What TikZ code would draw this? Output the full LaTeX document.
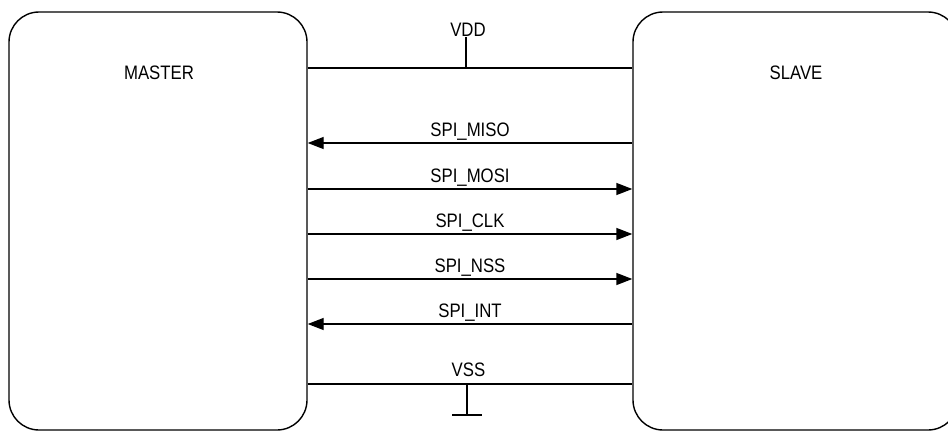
\documentclass[tikz,border=0pt]{standalone}
\usepackage{fontspec}
\setmainfont{Liberation Sans}
\newfontfamily\lblfont[FakeStretch=0.86]{Liberation Sans}
\usetikzlibrary{arrows.meta}
\begin{document}
\begin{tikzpicture}[x=1pt,y=-1pt,
  box/.style={draw, line width=1.4pt, rounded corners=30pt, inner sep=0pt},
  title/.style={anchor=base, inner sep=0pt, font=\lblfont\fontsize{19.5}{22}\selectfont},
  lbl/.style={anchor=base, inner sep=0pt, yshift=6.5pt, font=\lblfont\fontsize{19.5}{22}\selectfont},
  wire/.style={line width=1.4pt},
  sig/.style={line width=1.4pt, -{Triangle[length=16pt,width=12pt]}},
  gis/.style={line width=1.4pt, {Triangle[length=16pt,width=12pt]}-}]
\useasboundingbox (0,0) rectangle (948,432);
\fill[white] (0,0) rectangle (948,432);
% boxes
\node[box, minimum width=298pt, minimum height=418pt] (master) at (158,221) {};
\node[box, minimum width=325pt, minimum height=418pt] (slave) at (795.5,221) {};
\node[title] (mastert) at (159,79.5) {MASTER};
\node[title] (slavet) at (796,79.5) {SLAVE};
% VDD
\draw[wire] (master.east |- 0,68) -- coordinate[pos=0.488] (vddj) (slave.west |- 0,68);
\draw[wire] (vddj) -- ++(0,-31) coordinate (vddtop);
\node[title] (vdd) at (468,36) {VDD};
% signals
\draw[gis] (master.east |- 0,143) -- node[lbl] (miso) {SPI\_MISO} (slave.west |- 0,143);
\draw[sig] (master.east |- 0,189) -- node[lbl] (mosi) {SPI\_MOSI} (slave.west |- 0,189);
\draw[sig] (master.east |- 0,234) -- node[lbl] (clk) {SPI\_CLK} (slave.west |- 0,234);
\draw[sig] (master.east |- 0,279) -- node[lbl] (nss) {SPI\_NSS} (slave.west |- 0,279);
\draw[gis] (master.east |- 0,324) -- node[lbl] (int) {SPI\_INT} (slave.west |- 0,324);
% VSS
\draw[wire] (master.east |- 0,384) -- coordinate[pos=0.491] (vssj) (slave.west |- 0,384);
\node[title] (vss) at (468.5,376) {VSS};
\draw[wire] (vssj) -- ++(0,31) coordinate (vssbot);
\draw[wire] ([xshift=-15pt]vssbot) -- ([xshift=15pt]vssbot);
\end{tikzpicture}
\end{document}
